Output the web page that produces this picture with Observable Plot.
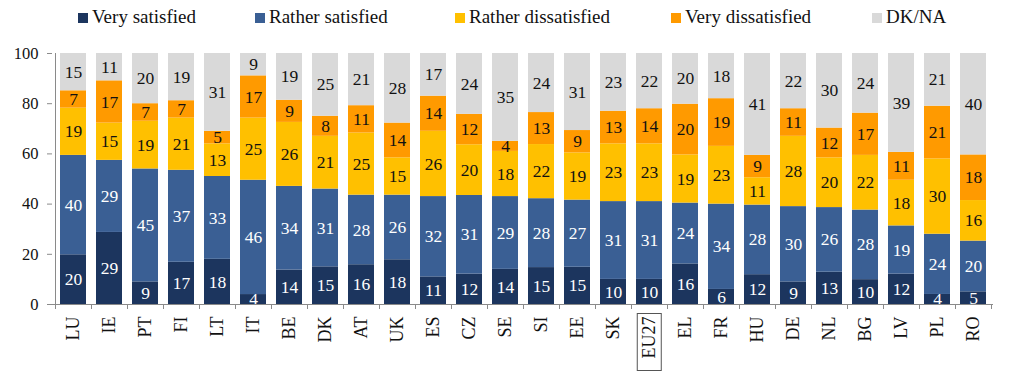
<!DOCTYPE html>
<html><head><meta charset="utf-8">
<script src="https://cdn.jsdelivr.net/npm/d3@7"></script>
<script src="https://cdn.jsdelivr.net/npm/@observablehq/plot@0.6"></script>
<style>
body{margin:0;background:#fff;font-family:"Liberation Serif",serif;}
#legend{position:relative;height:36px;width:1013px;}
.item{position:absolute;top:6px;font-size:19px;color:#111;display:flex;align-items:center;white-space:nowrap;line-height:22px}
.sw{width:10px;height:10px;margin-right:4px;display:inline-block;position:relative;top:1px}
</style></head><body>
<div id="legend"></div><div id="chart"></div>
<script>
const countries = ["LU","IE","PT","FI","LT","IT","BE","DK","AT","UK","ES","CZ","SE","SI","EE","SK","EU27","EL","FR","HU","DE","NL","BG","LV","PL","RO"];
const verySatisfied      = [20,29, 9,17,18, 4,14,15,16,18,11,12,14,15,15,10,10,16, 6,12, 9,13,10,12, 4, 5];
const ratherSatisfied    = [40,29,45,37,33,46,34,31,28,26,32,31,29,28,27,31,31,24,34,28,30,26,28,19,24,20];
const ratherDissatisfied = [19,15,19,21,13,25,26,21,25,15,26,20,18,22,19,23,23,19,23,11,28,20,22,18,30,16];
const veryDissatisfied   = [ 7,17, 7, 7, 5,17, 9, 8,11,14,14,12, 4,13, 9,13,14,20,19, 9,11,12,17,11,21,18];
const dkna               = [15,11,20,19,31, 9,19,25,21,28,17,24,35,24,31,23,22,20,18,41,22,30,24,39,21,40];
const series = ["Very satisfied","Rather satisfied","Rather dissatisfied","Very dissatisfied","DK/NA"];
const seriesValues = [verySatisfied, ratherSatisfied, ratherDissatisfied, veryDissatisfied, dkna];
const colors = ["#1c355e","#3a5f94","#ffc000","#ff9a00","#d9d9d9"];
const darkSeries = ["Very satisfied","Rather satisfied"];
const yTicks = [0,20,40,60,80,100];
const legendLeft = [78,255,455,671,872];

const rows = [];
countries.forEach((c,i) => series.forEach((s,j) => rows.push({country:c, series:s, value:seriesValues[j][i]})));

const leg = document.getElementById("legend");
series.forEach((s,j) => {
  const it = document.createElement("div");
  it.className = "item"; it.style.left = legendLeft[j] + "px";
  it.innerHTML = `<span class="sw" style="background:${colors[j]}"></span>${s}`;
  leg.appendChild(it);
});

const H = 345, MT = 17, MB = 77;
const stackOpts = {offset:"normalize", x:"country", y:"value", z:"series"};
const plot = Plot.plot({
  width:1013, height:H, marginTop:MT, marginBottom:MB, marginLeft:52, marginRight:20,
  style:{fontFamily:"Liberation Serif, serif", fontSize:"16px", color:"#111", background:"#fff"},
  x:{domain:countries, paddingInner:0.29, paddingOuter:0.13, label:null},
  y:{domain:[0,100], percent:true, label:null},
  color:{domain:series, range:colors},
  marks:[
    Plot.barY(rows, Plot.stackY({...stackOpts, fill:"series"})),
    Plot.text(rows, Plot.stackY({...stackOpts, text: d => darkSeries.includes(d.series) ? String(d.value) : null, fill:"white", fontSize:17.5})),
    Plot.text(rows, Plot.stackY({...stackOpts, text: d => darkSeries.includes(d.series) ? null : String(d.value), fill:"#111", fontSize:17.5})),
    Plot.ruleY([0], {stroke:"#8a8a8a"}),
    Plot.ruleX([countries[0]], {x:d=>d, dx:-18, stroke:"#8a8a8a", insetBottom:-5}),
    Plot.ruleX(countries.slice(1), {x:d=>d, dx:-18, stroke:"#8a8a8a", insetTop:H-MT-MB, insetBottom:-5}),
    Plot.ruleX([countries[countries.length-1]], {x:d=>d, dx:18, stroke:"#8a8a8a", insetTop:H-MT-MB, insetBottom:-5}),
    Plot.axisY({ticks:yTicks, tickSize:5, tickPadding:9, fontSize:16.5, label:null}),
    Plot.axisX({tickRotate:-90, tickSize:0, tickPadding:12, fontSize:18, label:null})
  ]
});
document.getElementById("chart").appendChild(plot);
d3.select(plot).selectAll('[aria-label="y-axis tick"] path, [aria-label="y-axis tick"]').attr("stroke","#8a8a8a");
d3.select(plot).selectAll('text').each(function(){
  if (this.textContent === "EU27") {
    const b = this.getBBox();
    const r = document.createElementNS("http://www.w3.org/2000/svg","rect");
    r.setAttribute("x", b.x - 12); r.setAttribute("y", b.y - 2);
    r.setAttribute("width", b.width + 15); r.setAttribute("height", b.height + 4);
    r.setAttribute("fill","none"); r.setAttribute("stroke","#555");
    const t = this.getAttribute("transform"); if (t) r.setAttribute("transform", t);
    this.parentNode.insertBefore(r, this);
  }
});
</script></body></html>
